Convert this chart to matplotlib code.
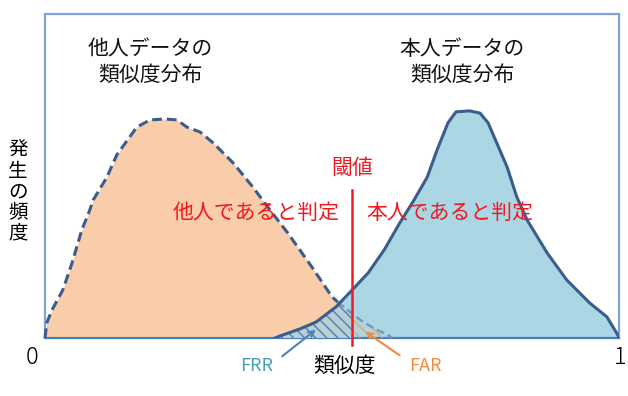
import numpy as np
import matplotlib
matplotlib.use("Agg")
import matplotlib.pyplot as plt

plt.rcParams['font.family'] = ['Noto Sans CJK JP', 'DejaVu Sans']
plt.rcParams['hatch.linewidth'] = 1.0

# Distribution of impostor (他人) similarity scores
other_x = [0, 0.003, 0.012, 0.031, 0.047, 0.064, 0.078, 0.084, 0.108, 0.125, 0.160, 0.183,
           0.209, 0.230, 0.247, 0.270, 0.293, 0.328, 0.362, 0.392, 0.423, 0.465, 0.500,
           0.510, 0.549, 0.575, 0.598, 0.605]
other_y = [0, 0.046, 0.086, 0.148, 0.231, 0.333, 0.395, 0.426, 0.497, 0.565, 0.651, 0.673,
           0.676, 0.673, 0.651, 0.636, 0.602, 0.540, 0.466, 0.395, 0.324, 0.219, 0.127,
           0.111, 0.056, 0.028, 0.009, 0]

# Distribution of genuine (本人) similarity scores
self_x = [0.401, 0.409, 0.444, 0.472, 0.507, 0.535, 0.563, 0.591, 0.618, 0.643, 0.666, 0.683,
          0.702, 0.716, 0.740, 0.758, 0.772, 0.787, 0.805, 0.822, 0.840, 0.875, 0.909,
          0.949, 0.979, 0.998, 1.0]
self_y = [0, 0.006, 0.028, 0.049, 0.096, 0.148, 0.201, 0.272, 0.355, 0.426, 0.497, 0.580,
          0.664, 0.698, 0.701, 0.694, 0.664, 0.602, 0.528, 0.435, 0.364, 0.262, 0.179,
          0.108, 0.065, 0.009, 0]

threshold = 0.535
cross_x = 0.510

fig = plt.figure(figsize=(6.28, 3.96), dpi=100)
ax = fig.add_axes([45/628, 58/396, 574/628, 324/396])
ax.set_xlim(0, 1)
ax.set_ylim(0, 1)
ax.set_xticks([])
ax.set_yticks([])
for s in ax.spines.values():
    s.set_color('#7ea3d6')
    s.set_linewidth(1.6)
ax.spines['bottom'].set_color('#4a7ebb')

ox = np.array(other_x); oy = np.array(other_y)
sx = np.array(self_x); sy = np.array(self_y)

orange_fc = '#facdaa'
blue_fc = '#abd7e5'
edge = '#3c5d8c'

ax.fill_between(ox, 0, oy, color=orange_fc, lw=0, zorder=1)
ax.fill_between(sx, 0, sy, color=blue_fc, lw=0, zorder=2)

# overlap region
grid = np.linspace(sx[0], ox[-1], 200)
ov = np.minimum(np.interp(grid, ox, oy), np.interp(grid, sx, sy, left=0, right=0))
left = grid <= threshold
right = grid >= threshold
ax.fill_between(grid[left], 0, ov[left], facecolor='#b9cfd3', edgecolor='#4f7fb0',
                hatch='\\\\\\', lw=0, zorder=3)
ax.fill_between(grid[right], 0, ov[right], facecolor='none', edgecolor='#f0a060',
                hatch='\\\\\\', lw=0, zorder=3)

# curves
m = ox <= cross_x + 1e-9
ax.plot(ox[m], oy[m], color=edge, lw=2.2, ls=(0, (3.2, 1.6)), zorder=5, clip_on=False)
ax.plot(ox[ox >= cross_x], oy[ox >= cross_x], color='#7d98b8', lw=1.8,
        ls=(0, (3.2, 1.6)), zorder=4, clip_on=False)
ax.plot(sx, sy, color=edge, lw=2.2, zorder=5, solid_joinstyle='round')

# threshold
ax.plot([threshold, threshold], [-0.022, 0.457], color='#ee1c25', lw=1.8, zorder=6,
        clip_on=False)

red = '#f01820'
fs = 15
ax.text(0.183, 0.852, '他人データの\n類似度分布', ha='center', va='center', fontsize=fs,
        linespacing=1.2, color='#111111')
ax.text(0.727, 0.852, '本人データの\n類似度分布', ha='center', va='center', fontsize=fs,
        linespacing=1.2, color='#111111')
ax.text(threshold, 0.525, '閾値', ha='center', va='center', fontsize=fs, color=red)
ax.text(0.514, 0.386, '他人であると判定', ha='right', va='center', fontsize=fs, color=red,
        zorder=7)
ax.text(0.560, 0.386, '本人であると判定', ha='left', va='center', fontsize=fs, color=red,
        zorder=7)

# outside labels (figure pixel coordinates)
def fx(px):
    return px / 628
def fy(py):
    return 1 - py / 396

fig.text(fx(32), fy(357), '0', ha='center', va='center', fontsize=17, fontweight='light')
fig.text(fx(620), fy(358), '1', ha='center', va='center', fontsize=17, fontweight='light')
fig.text(fx(345), fy(366), '類似度', ha='center', va='center', fontsize=fs)
fig.text(fx(257), fy(366), 'FRR', ha='center', va='center', fontsize=13, color='#4aa0b0')
fig.text(fx(425), fy(366), 'FAR', ha='center', va='center', fontsize=13, color='#f28b3c')
fig.text(fx(18), fy(192), '発\n生\nの\n頻\n度', ha='center', va='center', fontsize=14,
         linespacing=0.98)

ax.annotate('', xy=(fx(318), fy(328)), xycoords='figure fraction',
            xytext=(fx(280), fy(358)), textcoords='figure fraction',
            arrowprops=dict(arrowstyle='->', color='#4f81bd', lw=1.5), annotation_clip=False)
ax.annotate('', xy=(fx(363), fy(330)), xycoords='figure fraction',
            xytext=(fx(402), fy(357)), textcoords='figure fraction',
            arrowprops=dict(arrowstyle='->', color='#f28b3c', lw=1.5), annotation_clip=False)

fig.savefig('out.png', dpi=100)
